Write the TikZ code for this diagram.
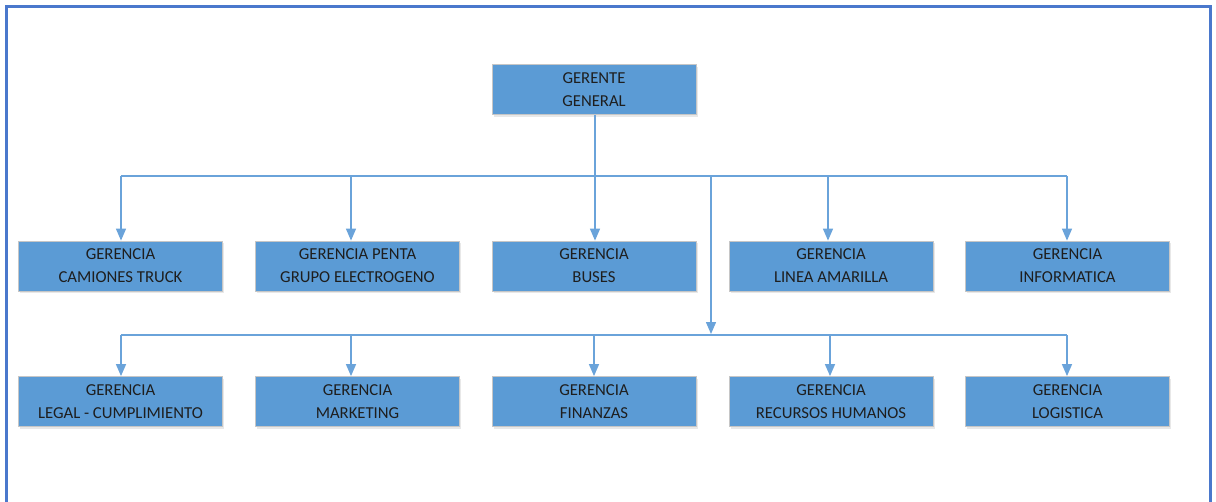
\documentclass[tikz,border=0pt]{standalone}
\usepackage{fontspec}
\setmainfont{Carlito}
\usetikzlibrary{arrows.meta,shadows}
\definecolor{boxblue}{HTML}{5B9BD5}
\definecolor{linkblue}{HTML}{6AA3DA}
\definecolor{framblue}{HTML}{4A78CC}
\definecolor{txt}{HTML}{1E1E1E}
\begin{document}
\begin{tikzpicture}[x=1pt,y=-1pt,
  unit/.style={draw=gray!45,line width=0.8pt,fill=boxblue,
    minimum width=204pt,minimum height=50pt,inner sep=0pt,
    text=txt,align=center,
    font=\fontsize{16.7}{23}\selectfont,
    drop shadow={shadow xshift=1.5pt,shadow yshift=-2pt,opacity=0.18,fill=gray}},
  link/.style={draw=linkblue,line width=1.4pt},
  arr/.style={link,-{Triangle[width=10pt,length=12pt]}}]
\useasboundingbox (0,0) rectangle (1216,501);
% outer frame
\draw[framblue,line width=3pt] (6,510) -- (6,6) -- (1210,6) -- (1210,510);

% boxes
\node[unit] (gg) at (594,89.5) {GERENTE\\GENERAL};

\node[unit] (a1) at (120.5,266) {GERENCIA\\CAMIONES TRUCK};
\node[unit] (a2) at (357.5,266) {GERENCIA PENTA\\GRUPO ELECTROGENO};
\node[unit] (a3) at (594,266) {GERENCIA\\BUSES};
\node[unit] (a4) at (831,266) {GERENCIA\\LINEA AMARILLA};
\node[unit] (a5) at (1067.5,266) {GERENCIA\\INFORMATICA};

\node[unit] (b1) at (120.5,401.5) {GERENCIA\\LEGAL - CUMPLIMIENTO};
\node[unit] (b2) at (357.5,401.5) {GERENCIA\\MARKETING};
\node[unit] (b3) at (594,401.5) {GERENCIA\\FINANZAS};
\node[unit] (b4) at (831,401.5) {GERENCIA\\RECURSOS HUMANOS};
\node[unit] (b5) at (1067.5,401.5) {GERENCIA\\LOGISTICA};

% junction points on the two distribution lines
\coordinate (p1) at (121,176);
\coordinate (p2) at (351,176);
\coordinate (p3) at (595,176);
\coordinate (p4) at (828,176);
\coordinate (p5) at (1067,176);
\coordinate (pd) at (711,176);

\coordinate (q1) at (121,335);
\coordinate (q2) at (351,335);
\coordinate (q3) at (594,335);
\coordinate (q4) at (830,335);
\coordinate (q5) at (1067,335);
\coordinate (qd) at (711,335);

% first level
\draw[link] (gg.south -| p3) -- (p3);
\draw[link] (p1) -- (p5);
\draw[arr] (p1) -- (p1 |- a1.north);
\draw[arr] (p2) -- (p2 |- a2.north);
\draw[arr] (p3) -- (p3 |- a3.north);
\draw[arr] (p4) -- (p4 |- a4.north);
\draw[arr] (p5) -- (p5 |- a5.north);

% second level
\draw[arr] (pd) -- ([yshift=1pt]qd);
\draw[link] (q1) -- (q5);
\draw[arr] (q1) -- (q1 |- b1.north);
\draw[arr] (q2) -- (q2 |- b2.north);
\draw[arr] (q3) -- (q3 |- b3.north);
\draw[arr] (q4) -- (q4 |- b4.north);
\draw[arr] (q5) -- (q5 |- b5.north);
\end{tikzpicture}
\end{document}
